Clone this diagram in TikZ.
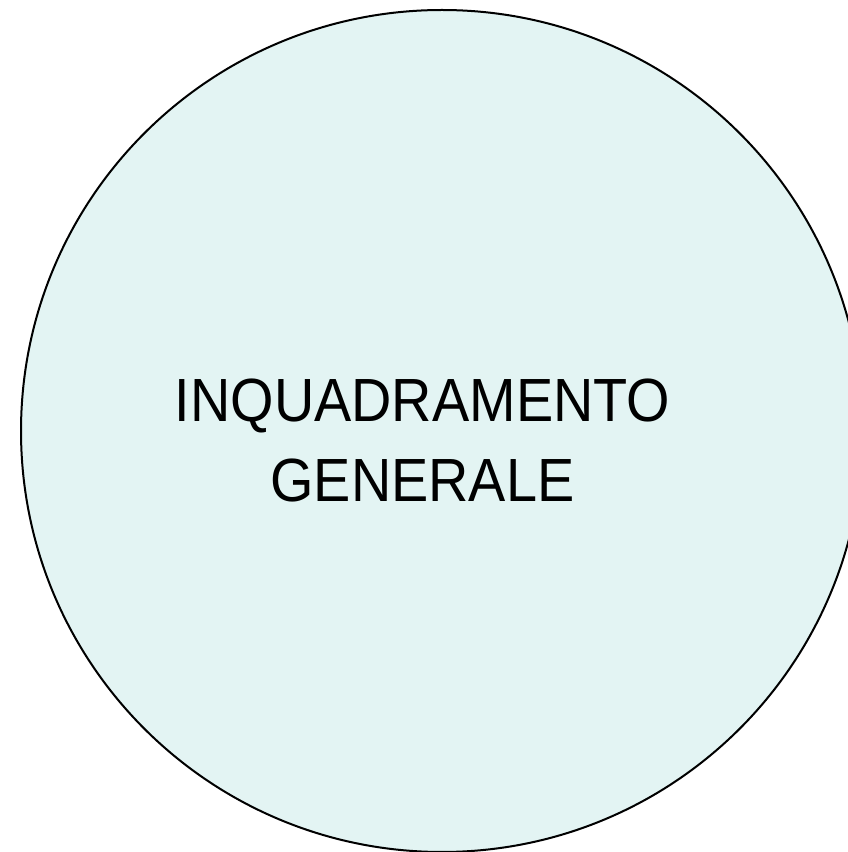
\documentclass[tikz,border=0pt]{standalone}
\usepackage{fontspec}
\setmainfont{Liberation Sans}
\definecolor{circfill}{HTML}{E3F4F3}
\tikzset{
  bubble/.style={circle, draw=black, line width=2pt, fill=circfill, minimum size=842pt, inner sep=0pt},
  label text/.style={font=\fontsize{61}{80}\selectfont, text=black, inner sep=0pt, anchor=base, xscale=0.915, transform shape}
}
\begin{document}
\begin{tikzpicture}[x=1pt,y=1pt]
\useasboundingbox (0,0) rectangle (848,852);
\clip (0,0) rectangle (848,852);
\node[bubble] (c) at (442,421) {};
\node[label text] (t1) at (422.5,430) {INQUADRAMENTO};
\node[label text] (t2) at (422.5,350) {GENERALE};
\end{tikzpicture}
\end{document}
